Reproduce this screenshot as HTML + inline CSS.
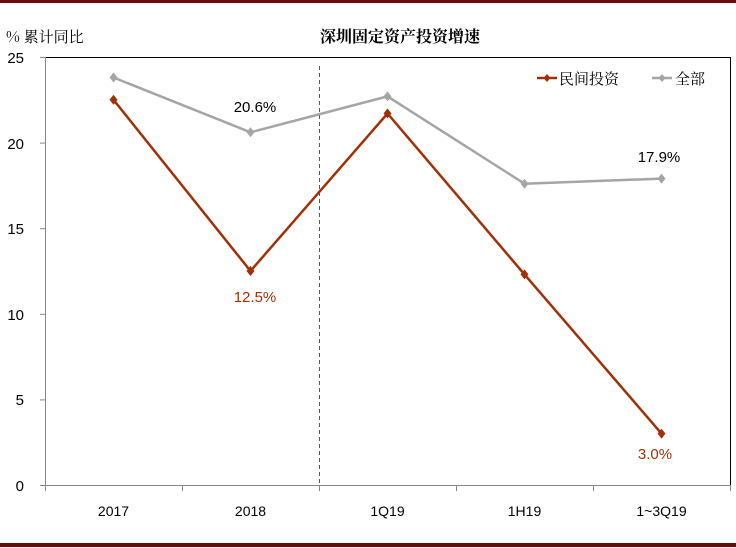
<!DOCTYPE html>
<html><head><meta charset="utf-8"><style>
body{margin:0;background:#fff;}
svg{display:block;font-family:"Liberation Sans","Noto Sans CJK SC",sans-serif;}
</style></head><body>
<svg width="736" height="548" xmlns="http://www.w3.org/2000/svg">
<rect x="0" y="0" width="736" height="3" fill="#6b0a0a"/>
<rect x="0" y="543" width="736" height="4" fill="#6b0a0a"/>
<text x="6" y="42" font-size="15" fill="#000" font-family="'Noto Serif CJK SC',serif">% 累计同比</text>
<text x="400" y="42" font-size="16" text-anchor="middle" font-family="'Noto Serif CJK SC',serif" font-weight="bold">深圳固定资产投资增速</text>
<line x1="45" y1="57.5" x2="730.5" y2="57.5" stroke="#000" stroke-width="1"/>
<line x1="730.5" y1="57" x2="730.5" y2="485" stroke="#000" stroke-width="1"/>
<line x1="45.5" y1="57" x2="45.5" y2="486" stroke="#888" stroke-width="1"/>
<line x1="45" y1="485.5" x2="730" y2="485.5" stroke="#888" stroke-width="1"/>
<g stroke="#888">
<line x1="40" y1="57.5" x2="45" y2="57.5"/><line x1="40" y1="143.1" x2="45" y2="143.1"/><line x1="40" y1="228.7" x2="45" y2="228.7"/><line x1="40" y1="314.3" x2="45" y2="314.3"/><line x1="40" y1="399.9" x2="45" y2="399.9"/><line x1="40" y1="485.5" x2="45" y2="485.5"/>
<line x1="45.5" y1="485" x2="45.5" y2="491"/><line x1="182.5" y1="485" x2="182.5" y2="491"/><line x1="319.5" y1="485" x2="319.5" y2="491"/><line x1="456.5" y1="485" x2="456.5" y2="491"/><line x1="593.5" y1="485" x2="593.5" y2="491"/><line x1="730.5" y1="485" x2="730.5" y2="491"/>
</g>
<g font-size="15" text-anchor="end" fill="#000">
<text x="24" y="63">25</text><text x="24" y="149">20</text><text x="24" y="234">15</text><text x="24" y="320">10</text><text x="24" y="405">5</text><text x="24" y="491">0</text>
</g>
<g font-size="14" text-anchor="middle" fill="#000">
<text x="113.5" y="516">2017</text><text x="250.5" y="516">2018</text><text x="387.5" y="516">1Q19</text><text x="524.5" y="516">1H19</text><text x="661.5" y="516">1~3Q19</text>
</g>
<line x1="319.5" y1="66" x2="319.5" y2="485" stroke="#e02020" stroke-dasharray="4,3" stroke-width="1"/>
<polyline fill="none" stroke="#a5a5a5" stroke-width="2.5" points="113.5,77.5 250.5,132.3 387.5,96.4 524.5,183.7 661.5,178.6"/>
<polyline fill="none" stroke="#a0300a" stroke-width="2.5" points="113.5,99.8 250.5,271 387.5,113.5 524.5,274.4 661.5,433.6"/>
<g fill="#a5a5a5">
<path d="M113.5,72.5l4,5l-4,5l-4,-5z"/><path d="M250.5,127.3l4,5l-4,5l-4,-5z"/><path d="M387.5,91.4l4,5l-4,5l-4,-5z"/><path d="M524.5,178.7l4,5l-4,5l-4,-5z"/><path d="M661.5,173.6l4,5l-4,5l-4,-5z"/>
</g>
<g fill="#a0300a">
<path d="M113.5,94.8l4,5l-4,5l-4,-5z"/><path d="M250.5,266l4,5l-4,5l-4,-5z"/><path d="M387.5,108.5l4,5l-4,5l-4,-5z"/><path d="M524.5,269.4l4,5l-4,5l-4,-5z"/><path d="M661.5,428.6l4,5l-4,5l-4,-5z"/>
</g>
<g font-size="15" text-anchor="middle">
<text x="255" y="112" fill="#000">20.6%</text>
<text x="659" y="162" fill="#000">17.9%</text>
<text x="255" y="302" fill="#a0300a">12.5%</text>
<text x="655" y="459" fill="#a0300a">3.0%</text>
</g>
<line x1="537" y1="78" x2="557" y2="78" stroke="#a0300a" stroke-width="2.5"/>
<path d="M547,74l3.5,4l-3.5,4l-3.5,-4z" fill="#a0300a"/>
<text x="559" y="84" font-size="15" font-family="'Noto Serif CJK SC',serif">民间投资</text>
<line x1="652" y1="78" x2="672" y2="78" stroke="#a5a5a5" stroke-width="2.5"/>
<path d="M662,74l3.5,4l-3.5,4l-3.5,-4z" fill="#a5a5a5"/>
<text x="675" y="84" font-size="15" font-family="'Noto Serif CJK SC',serif">全部</text>
</svg>
</body></html>
